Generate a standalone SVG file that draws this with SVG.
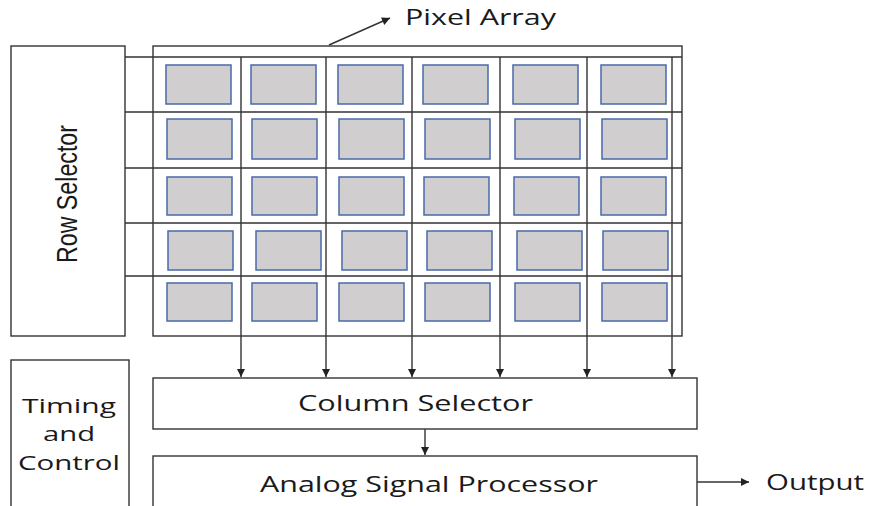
<svg xmlns="http://www.w3.org/2000/svg" width="870" height="506" viewBox="0 0 870 506">
<defs>
<style>
.box{fill:#fff;stroke:#333;stroke-width:1.4}
.ln{fill:none;stroke:#333;stroke-width:1.4}
.px{fill:#d0cece;stroke:#4a6aaa;stroke-width:1.5}
.t{font-family:"Open Sans","Noto Sans","Liberation Sans",sans-serif;fill:#1a1a1a}
</style>
<marker id="ah" markerWidth="10" markerHeight="10" refX="9" refY="5" orient="auto" markerUnits="userSpaceOnUse">
<path d="M1,1 L9,5 L1,9 Z" fill="#222"/>
</marker>
</defs>
<g id="row-selector">
<rect class="box" x="11" y="46" width="114" height="290"/>
<text class="t" transform="translate(77,194) rotate(-90)" font-size="30" text-anchor="middle" textLength="138" lengthAdjust="spacingAndGlyphs" style="font-family:'Liberation Sans',sans-serif">Row Selector</text>
</g>
<g id="pixel-array">
<rect class="box" x="153" y="46" width="529" height="290"/>
<g id="pixels">
<rect class="px" x="166" y="65" width="65" height="39"/>
<rect class="px" x="251" y="65" width="65" height="39"/>
<rect class="px" x="338" y="65" width="65" height="39"/>
<rect class="px" x="423" y="65" width="65" height="39"/>
<rect class="px" x="513" y="65" width="65" height="39"/>
<rect class="px" x="601" y="65" width="65" height="39"/>
<rect class="px" x="167" y="119" width="65" height="40"/>
<rect class="px" x="252" y="119" width="65" height="40"/>
<rect class="px" x="339" y="119" width="65" height="40"/>
<rect class="px" x="425" y="119" width="65" height="40"/>
<rect class="px" x="515" y="119" width="65" height="40"/>
<rect class="px" x="602" y="119" width="65" height="40"/>
<rect class="px" x="167" y="177" width="65" height="38"/>
<rect class="px" x="252" y="177" width="65" height="38"/>
<rect class="px" x="339" y="177" width="65" height="38"/>
<rect class="px" x="424" y="177" width="65" height="38"/>
<rect class="px" x="514" y="177" width="65" height="38"/>
<rect class="px" x="601" y="177" width="65" height="38"/>
<rect class="px" x="168" y="231" width="65" height="39"/>
<rect class="px" x="256" y="231" width="65" height="39"/>
<rect class="px" x="342" y="231" width="65" height="39"/>
<rect class="px" x="427" y="231" width="65" height="39"/>
<rect class="px" x="517" y="231" width="65" height="39"/>
<rect class="px" x="603" y="231" width="65" height="39"/>
<rect class="px" x="167" y="283" width="65" height="38"/>
<rect class="px" x="252" y="283" width="65" height="38"/>
<rect class="px" x="339" y="283" width="65" height="38"/>
<rect class="px" x="425" y="283" width="65" height="38"/>
<rect class="px" x="515" y="283" width="65" height="38"/>
<rect class="px" x="602" y="283" width="65" height="38"/>
</g>
<text class="t" x="405" y="25" font-size="21" textLength="151" lengthAdjust="spacingAndGlyphs">Pixel Array</text>
</g>
<g id="timing-control">
<rect class="box" x="11" y="360" width="118" height="170"/>
<text class="t" x="69" y="413" font-size="20" text-anchor="middle" textLength="94" lengthAdjust="spacingAndGlyphs">Timing</text>
<text class="t" x="69" y="441" font-size="20" text-anchor="middle" textLength="52" lengthAdjust="spacingAndGlyphs">and</text>
<text class="t" x="69" y="470" font-size="20" text-anchor="middle" textLength="102" lengthAdjust="spacingAndGlyphs">Control</text>
</g>
<g id="column-selector">
<rect class="box" x="153" y="378" width="544" height="51"/>
<text class="t" x="298" y="411" font-size="22" textLength="235" lengthAdjust="spacingAndGlyphs">Column Selector</text>
</g>
<g id="asp">
<rect class="box" x="153" y="456" width="544" height="80"/>
<text class="t" x="260" y="492" font-size="22" textLength="338" lengthAdjust="spacingAndGlyphs">Analog Signal Processor</text>
</g>
<g id="output">
<text class="t" x="766" y="490" font-size="22" textLength="98" lengthAdjust="spacingAndGlyphs">Output</text>
</g>
<g id="connectors">
<path class="ln" d="M125,57 H682 M125,112 H682 M125,168 H682 M125,223 H682 M125,276 H682"/>
<line class="ln" x1="241" y1="57" x2="241" y2="377" marker-end="url(#ah)"/>
<line class="ln" x1="326" y1="57" x2="326" y2="377" marker-end="url(#ah)"/>
<line class="ln" x1="412" y1="57" x2="412" y2="377" marker-end="url(#ah)"/>
<line class="ln" x1="500" y1="57" x2="500" y2="377" marker-end="url(#ah)"/>
<line class="ln" x1="587" y1="57" x2="587" y2="377" marker-end="url(#ah)"/>
<line class="ln" x1="672" y1="57" x2="672" y2="377" marker-end="url(#ah)"/>
<line class="ln" x1="425" y1="429" x2="425" y2="455" marker-end="url(#ah)"/>
<line class="ln" x1="697" y1="482" x2="749" y2="482" marker-end="url(#ah)"/>
<line class="ln" x1="329" y1="45" x2="390" y2="18" marker-end="url(#ah)"/>
</g>
</svg>
